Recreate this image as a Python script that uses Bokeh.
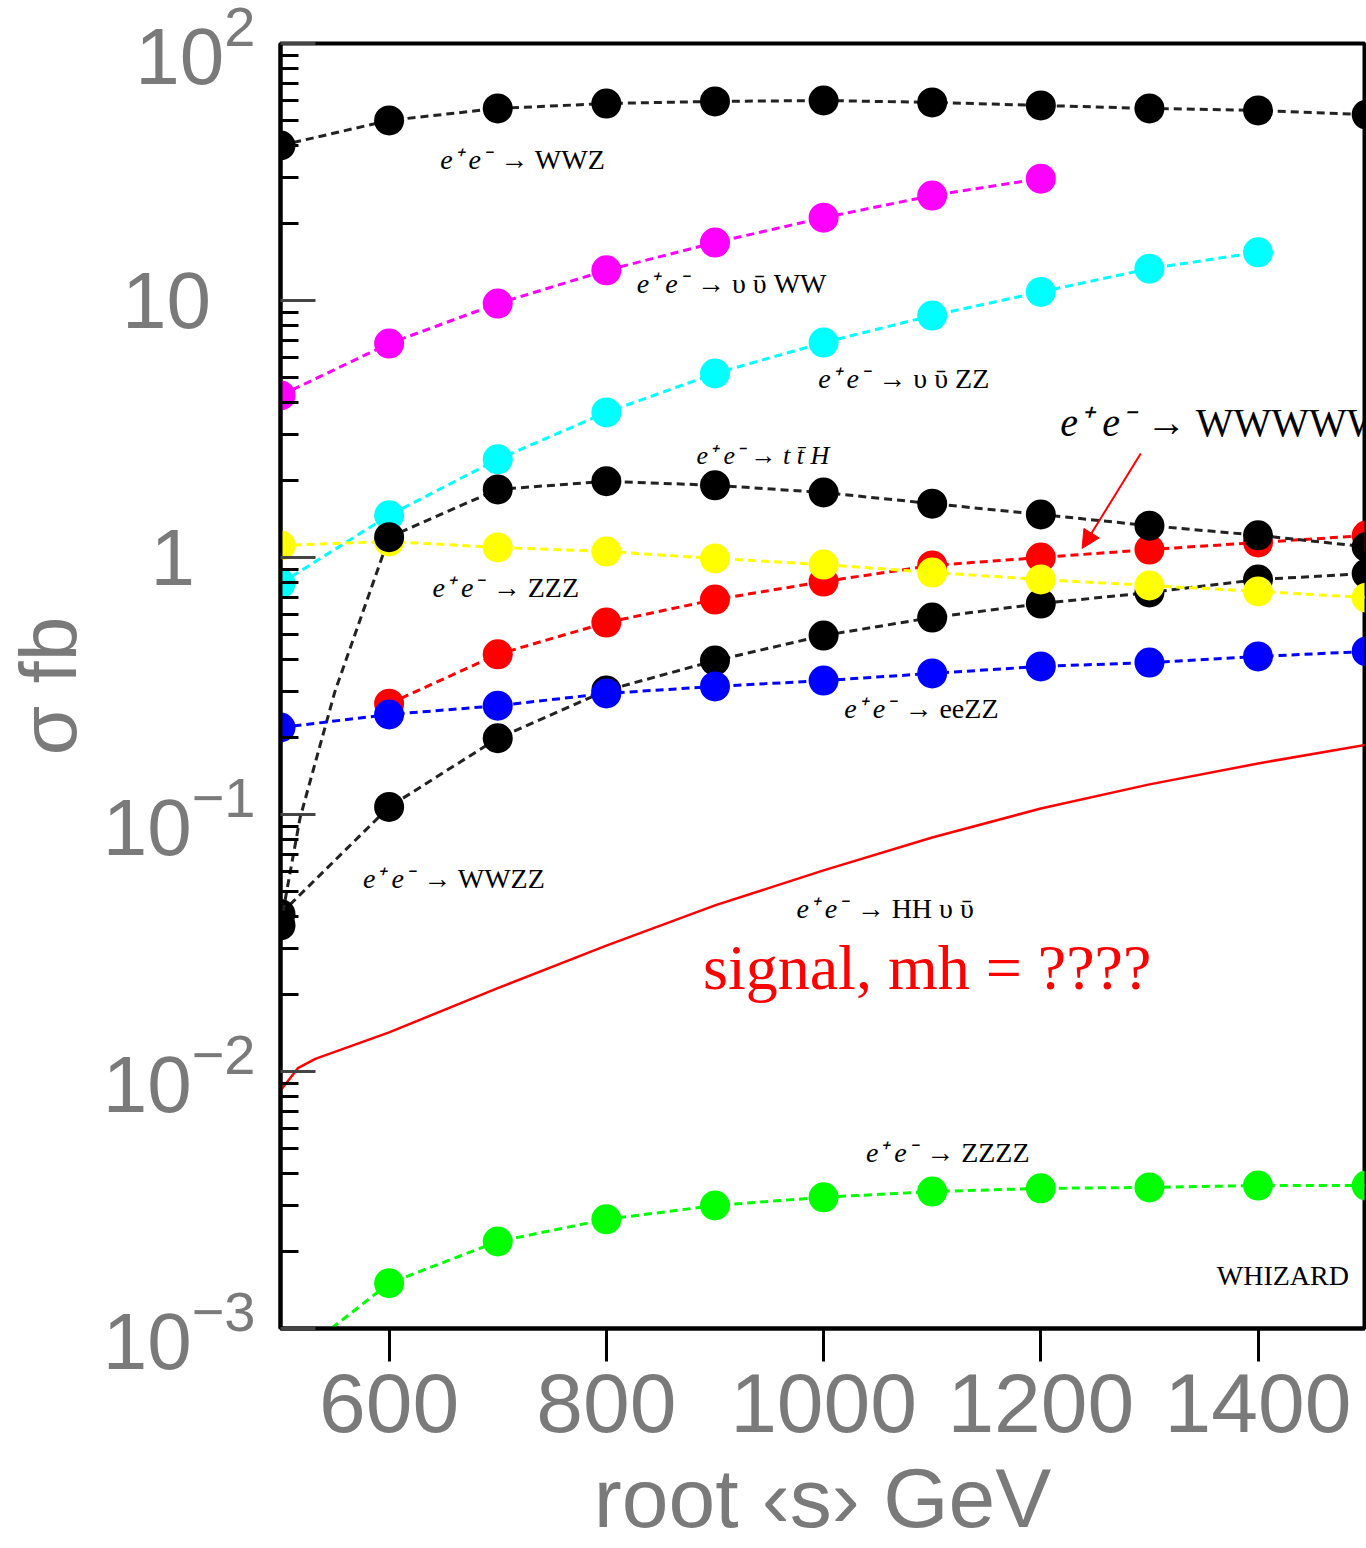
from bokeh.plotting import figure
from bokeh.models import Range1d, FixedTicker, Label, Arrow, NormalHead, LogTickFormatter
from bokeh.embed import file_html
from bokeh.resources import INLINE

# ---------------- data ----------------
energy = [500, 600, 700, 800, 900, 1000, 1100, 1200, 1300, 1400, 1500]

wwz = [40.1, 50.2, 55.9, 58.4, 59.5, 60.0, 59.0, 57.4, 55.9, 54.9, 52.9]

nnww_x = [500, 600, 700, 800, 900, 1000, 1100, 1200]
nnww = [4.27, 6.80, 9.73, 13.1, 16.8, 21.0, 25.6, 29.8]

nnzz_x = [500, 600, 700, 800, 900, 1000, 1100, 1200, 1300, 1400]
nnzz = [0.792, 1.46, 2.41, 3.67, 5.20, 6.86, 8.74, 10.8, 13.3, 15.4]

tth = [0.037, 1.20, 1.84, 1.98, 1.91, 1.79, 1.62, 1.47, 1.33, 1.22, 1.10]
tth_curve_x = [500, 518, 550, 600, 700, 800, 900, 1000, 1100, 1200, 1300, 1400, 1500]
tth_curve = [0.037, 0.097, 0.30, 1.20, 1.84, 1.98, 1.91, 1.79, 1.62, 1.47, 1.33, 1.22, 1.10]

wwww_x = [600, 700, 800, 900, 1000, 1100, 1200, 1300, 1400, 1500]
wwww = [0.270, 0.420, 0.558, 0.686, 0.806, 0.931, 1.00, 1.074, 1.144, 1.218]

zzz = [1.114, 1.154, 1.094, 1.055, 0.991, 0.939, 0.874, 0.821, 0.778, 0.738, 0.698]

wwzz = [0.041, 0.107, 0.198, 0.304, 0.397, 0.497, 0.584, 0.662, 0.731, 0.821, 0.866]

eezz = [0.218, 0.245, 0.265, 0.296, 0.315, 0.332, 0.354, 0.377, 0.390, 0.412, 0.431]

zzzz = [0.0007, 0.00150, 0.00218, 0.00266, 0.00301, 0.00324, 0.00341, 0.00351, 0.00354, 0.00360, 0.00360]

signal_x = [500, 516, 532, 600, 700, 800, 900, 1000, 1100, 1200, 1300, 1400, 1500]
signal = [0.00843, 0.0103, 0.0112, 0.0142, 0.0211, 0.0309, 0.0443, 0.0606, 0.0814, 0.1055, 0.131, 0.158, 0.187]

x_ticks = [600, 800, 1000, 1200, 1400]
y_ticks = [0.001, 0.01, 0.1, 1, 10, 100]
# 1 and 10 are written plainly, the other decades as 10 with an exponent
y_plain_ticks = [1, 10]
y_plain_labels = ["1\u00a0\u00a0\u2009", "10\u00a0\u00a0"]

# process labels: (x, y, italic part, upright part, font px)
process_labels = [
    (647, 32.9, "e\u207a e\u207b", "\u2192 WWZ", 28),
    (828, 10.9, "e\u207a e\u207b", "\u2192 \u03c5 \u1fe1 WW", 28),
    (995, 4.63, "e\u207a e\u207b", "\u2192 \u03c5 \u1fe1 ZZ", 28),
    (1218, 3.04, "e\u207a e\u207b", "\u2192 WWWWW", 40),
    (883, 2.34, "e\u207a e\u207b \u2192 t t\u0304 H", "", 26),
    (640, 0.711, "e\u207a e\u207b", "\u2192 ZZZ", 28),
    (1019, 0.2406, "e\u207a e\u207b", "\u2192 eeZZ", 28),
    (576, 0.0525, "e\u207a e\u207b", "\u2192 WWZZ", 28),
    (975, 0.0401, "e\u207a e\u207b", "\u2192 HH \u03c5 \u1fe1", 28),
    (1039, 0.00451, "e\u207a e\u207b", "\u2192 ZZZZ", 28),
]

# ---------------- figure ----------------
p = figure(width=1366, height=1548,
           x_range=Range1d(500, 1498), y_range=Range1d(0.001, 100),
           y_axis_type="log", output_backend="svg", toolbar_location=None,
           min_border_left=280, min_border_right=2, min_border_top=43, min_border_bottom=220,
           background_fill_color="white", border_fill_color="white")

p.xgrid.visible = False
p.ygrid.visible = False
p.outline_line_color = "black"
p.outline_line_width = 4
p.outline_line_alpha = 1.0

grey = "#7a7a7a"

# y axis
minor = [k * 10.0 ** e for e in range(-3, 2) for k in range(2, 10)]
p.yaxis.ticker = FixedTicker(ticks=y_ticks, minor_ticks=minor)
p.yaxis.formatter = LogTickFormatter(min_exponent=0)
p.yaxis.major_label_overrides = dict(zip(y_plain_ticks, y_plain_labels))
p.yaxis.major_tick_in = 35
p.yaxis.major_tick_out = 0
p.yaxis.minor_tick_in = 18
p.yaxis.minor_tick_out = 0
p.yaxis.major_tick_line_width = 3
p.yaxis.minor_tick_line_width = 3
p.yaxis.major_tick_line_color = "#444444"
p.yaxis.minor_tick_line_color = "black"
p.yaxis.axis_line_width = 4
p.yaxis.axis_line_color = "black"
p.yaxis.major_label_text_font = "Liberation Sans"
p.yaxis.major_label_text_font_size = "80px"
p.yaxis.major_label_text_color = grey
p.yaxis.major_label_standoff = 25
p.yaxis.axis_label = "\u03c3 fb"
p.yaxis.axis_label_text_font = "Liberation Sans"
p.yaxis.axis_label_text_font_size = "80px"
p.yaxis.axis_label_text_font_style = "normal"
p.yaxis.axis_label_text_color = grey
p.yaxis.axis_label_standoff = 7

# x axis
p.xaxis.ticker = FixedTicker(ticks=x_ticks)
p.xaxis.minor_tick_line_color = None
p.xaxis.major_tick_in = 0
p.xaxis.major_tick_out = 33
p.xaxis.major_tick_line_width = 3
p.xaxis.major_tick_line_color = "black"
p.xaxis.axis_line_width = 4
p.xaxis.axis_line_color = "black"
p.xaxis.major_label_text_font = "Liberation Sans"
p.xaxis.major_label_text_font_size = "84px"
p.xaxis.major_label_text_color = grey
p.xaxis.major_label_standoff = 12
p.xaxis.axis_label = "root \u2039s\u203a GeV"
p.xaxis.axis_label_text_font = "Liberation Sans"
p.xaxis.axis_label_text_font_size = "84px"
p.xaxis.axis_label_text_font_style = "normal"
p.xaxis.axis_label_text_color = grey
p.xaxis.axis_label_standoff = 16

dash = "8 5"
DOT = 30

def series(xs, ys, color, line_color=None):
    p.line(xs, ys, line_color=line_color or color, line_width=3, line_dash=dash)
    p.scatter(xs, ys, size=DOT, fill_color=color, line_color=color, line_width=0)

series(energy, wwz, "black", "#222222")
series(nnww_x, nnww, "#ff00ff")
series(nnzz_x, nnzz, "#00ffff")
series(energy, wwzz, "black", "#222222")
series(wwww_x, wwww, "#ff0000")
series(energy, zzz, "#ffff00")
p.line(tth_curve_x, tth_curve, line_color="#222222", line_width=3, line_dash=dash)
p.scatter(energy, tth, size=DOT, fill_color="black", line_color="black", line_width=0)
series(energy, eezz, "#0000ff")
series(energy, zzzz, "#00ff00")

p.line(signal_x, signal, line_color="#ff0000", line_width=2.5)

# labels
for (lx, ly, ital, rom, fs) in process_labels:
    p.add_layout(Label(x=lx, y=ly, y_offset=0.28 * fs, text=ital, text_font="Liberation Serif",
                       text_font_style="italic", text_font_size=f"{fs}px",
                       text_color="black", text_baseline="alphabetic", text_align="left"))
    if rom:
        p.add_layout(Label(x=lx, y=ly, x_offset=2.15 * fs, y_offset=0.28 * fs, text=rom,
                           text_font="Liberation Serif",
                           text_font_style="normal", text_font_size=f"{fs}px",
                           text_color="black", text_baseline="alphabetic", text_align="left"))

p.add_layout(Label(x=889, y=0.0216, y_offset=18, text="signal, mh = ????", text_font="Liberation Serif",
                   text_font_size="64px", text_color="#ff0000", text_baseline="alphabetic"))
p.add_layout(Label(x=1362, y=0.0015, y_offset=8, text="WHIZARD", text_font="Liberation Serif",
                   text_font_size="28px", text_color="black", text_baseline="alphabetic"))

p.add_layout(Arrow(end=NormalHead(size=18, fill_color="#ff0000", line_color="#ff0000"),
                   x_start=1292, y_start=2.54, x_end=1238, y_end=1.084,
                   line_color="#ff0000", line_width=2))

open("out.html", "w").write(file_html(p, INLINE))
